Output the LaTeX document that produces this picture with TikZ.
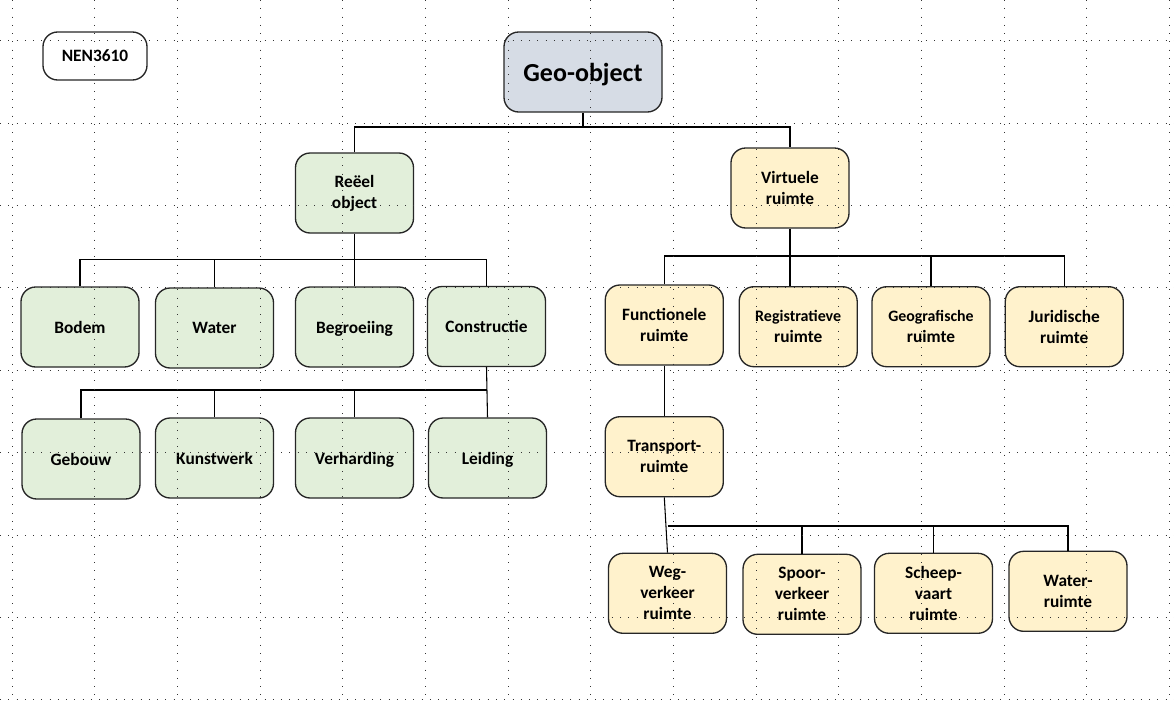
\documentclass[tikz,border=0pt]{standalone}
\usepackage{fontspec}
\setmainfont{Carlito}
\definecolor{reeelgroen}{HTML}{E2EFDA}
\definecolor{virtgeel}{HTML}{FFF2CC}
\definecolor{geoblauw}{HTML}{D6DCE5}

\begin{document}
\begin{tikzpicture}[x=0.75pt, y=-0.75pt,
    box/.style={draw=black!85, line width=1pt, rounded corners=11pt,
        minimum width=88.5pt, minimum height=60pt, inner sep=0pt, align=center,
        font=\fontsize{13}{15.75}\selectfont\bfseries},
    groenbox/.style={box, fill=reeelgroen},
    geelbox/.style={box, fill=virtgeel},
    eenregel/.style={text depth=0pt},
    verbinding/.style={line width=0.8pt, black},
    rasterpunt/.style={black!80, line width=0.75pt, dash pattern=on 0.75pt off 5.45pt}
]
    \useasboundingbox (0,0) rectangle (1174,700);

%top
    \node[box, eenregel, fill=white, minimum width=78pt, minimum height=36pt] (nen) at (95,56) {NEN3610};
    \node[box, eenregel, fill=geoblauw, minimum width=118.5pt, font=\fontsize{19.5}{23}\selectfont\bfseries] (geo) at (583,72) {Geo-object};
    \node[groenbox] (reeel) at (354.5,193) {Reëel\\object};
    \node[geelbox] (virt) at (790,188) {Virtuele\\ruimte};

%reeel object
    \node[groenbox, eenregel] (bodem) at (80,327) {Bodem};
    \node[groenbox, eenregel] (water) at (214.5,328) {Water};
    \node[groenbox, eenregel] (begr) at (354.5,327) {Begroeiing};
    \node[groenbox, eenregel] (constr) at (486.5,326.5) {Constructie};

%constructie
    \node[groenbox, eenregel] (gebouw) at (81,459) {Gebouw};
    \node[groenbox, eenregel] (kunst) at (214.5,458) {Kunstwerk};
    \node[groenbox, eenregel] (verh) at (354.5,458) {Verharding};
    \node[groenbox, eenregel] (leid) at (487.5,458) {Leiding};

%virtuele ruimte
    \node[geelbox] (func) at (664.3,325) {Functionele\\ruimte};
    \node[geelbox] (regis) at (798.2,326.7) {{\fontsize{12}{15.75}\selectfont Registratieve}\\ruimte};
    \node[geelbox] (geogr) at (931,326.7) {{\fontsize{11.9}{15.75}\selectfont Geografische}\\ruimte};
    \node[geelbox] (jurid) at (1064.3,326.7) {Juridische\\ruimte};
    \node[geelbox] (transp) at (664.3,456.7) {Transport-\\ruimte};

%transportruimte
    \node[geelbox] (weg) at (667.5,593.3) {Weg-\\verkeer\\ruimte};
    \node[geelbox] (spoor) at (802,594.3) {Spoor-\\verkeer\\ruimte};
    \node[geelbox] (scheep) at (933.5,593.3) {Scheep-\\vaart\\ruimte};
    \node[geelbox] (watr) at (1068,591.3) {Water-\\ruimte};

%lines
    \coordinate (bus1) at (583,127);
    \coordinate (bus2) at (354,259.5);
    \coordinate (bus3) at (487,390);
    \coordinate (bus4) at (790,256);
    \coordinate (bus5) at (668,526);

    \draw[verbinding] (geo.south) -- (bus1);
    \draw[verbinding] (reeel.north) |- (bus1) -| (virt.north);

    \draw[verbinding] (reeel.south) -- (begr.north);
    \draw[verbinding] (bodem.north) |- (bus2) -| (constr.north);
    \draw[verbinding] (water.north) -- (water.north |- bus2);

    \draw[verbinding] (constr.south) -- (leid.north);
    \draw[verbinding] (gebouw.north) |- (bus3);
    \draw[verbinding] (kunst.north) -- (kunst.north |- bus3);
    \draw[verbinding] (verh.north) -- (verh.north |- bus3);

    \draw[verbinding] (virt.south) -- (virt.south |- regis.north);
    \draw[verbinding] (func.north) |- (bus4) -| (jurid.north);
    \draw[verbinding] (geogr.north) -- (geogr.north |- bus4);
    \draw[verbinding] (func.south) -- (transp.north);

    \draw[verbinding] (transp.south) -- (weg.north);
    \draw[verbinding] (weg.north |- bus5) -| (watr.north);
    \draw[verbinding] (spoor.north) -- (spoor.north |- bus5);
    \draw[verbinding] (scheep.north) -- (scheep.north |- bus5);

%grid
    \foreach \gx in {0,...,14}
        \draw[rasterpunt] (12.3+82.65*\gx,0) -- ++(0,700);
    \foreach \gy in {0,...,8}
        \draw[rasterpunt] (0,40.7+82.4*\gy) -- ++(1174,0);

\end{tikzpicture}
\end{document}
